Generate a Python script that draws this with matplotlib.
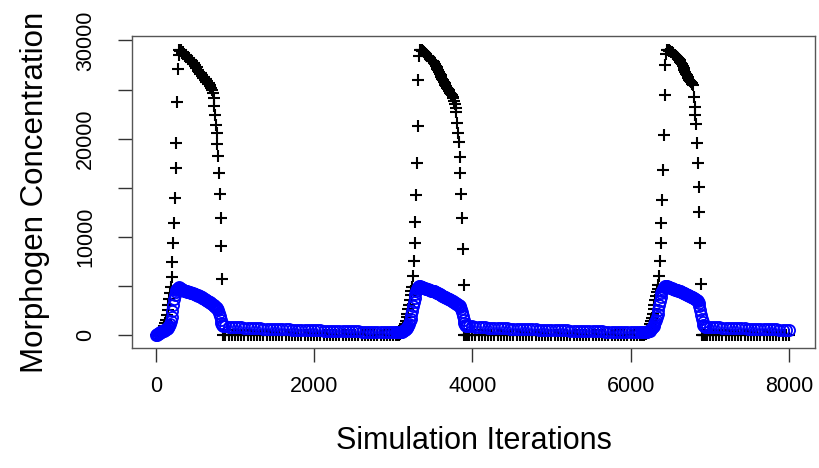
import matplotlib
matplotlib.use("Agg")
import matplotlib.pyplot as plt
import numpy as np

plt.rcParams["font.family"] = ["Liberation Sans", "DejaVu Sans"]

# pulses are sampled every 10 iterations, the baseline every 40
c1_start = 0
c1_black = [0, 0, 10, 30, 60, 100, 150, 220, 320, 450, 650, 900, 1200, 1600, 2050,
            2550, 3100, 3700, 4300, 4900, 5900, 7500, 9400, 11400, 14000, 17000,
            19600, 23700, 27100, 28500, 29050,
            28900, 29000, 28750, 28800, 28600, 28650, 28450, 28500, 28300, 28350,
            28150, 28200, 28000, 28050, 27800, 27900, 27650, 27700, 27400, 27500,
            27200, 27250, 27000, 26900, 26800, 26600, 26650, 26400, 26450, 26200,
            26250, 26000, 26050, 25800, 25850, 25600, 25650, 25400, 25450, 25200,
            25000, 24700,
            24100, 23300, 22400, 21400, 20600, 19500, 18200, 16500, 14400, 11900,
            9100, 5700, 0]
c1_blue = [0, 40, 90, 140, 190, 240, 290, 340, 390, 430, 480, 530, 580, 630, 680,
           740, 820, 950, 1150, 1450, 1900, 2500, 3100, 3700, 4100, 4400, 4600,
           4750, 4850, 4900, 4850, 4800, 4750, 4700, 4650, 4600, 4550, 4500, 4480,
           4450, 4420, 4400, 4370, 4350, 4320, 4300, 4270, 4250, 4220, 4200, 4170,
           4140, 4100, 4070, 4030, 4000, 3950, 3900, 3860, 3820, 3780, 3730, 3680,
           3630, 3580, 3530, 3470, 3410, 3350, 3290, 3230, 3170, 3100, 3030, 2960,
           2900, 2850, 2800, 2700, 2550, 2300, 1950, 1550, 1200, 1000, 920]

flat1_start = 880
flat1_blue = [900, 870, 850, 830, 810, 790, 770, 755, 740, 725,
              710, 695, 680, 665, 650, 640, 630, 620, 610, 600,
              590, 580, 570, 560, 550, 540, 530, 520, 510, 500,
              490, 480, 470, 460, 450, 445, 440, 430, 420, 410,
              400, 390, 380, 370, 360, 355, 350, 345, 340, 330,
              320, 315, 310, 305, 300]

c2_start = 3050
c2_black = [0, 20, 50, 100, 170, 260, 380, 520, 700, 920, 1180, 1480, 1820, 2200,
            2620, 3080, 3560, 4050, 4500, 4920,
            6010, 7570, 9410, 11490, 14300, 17500, 21340, 26000, 28370, 29050,
            29000, 29050, 28950, 28900, 28800, 28700, 28650, 28550, 28450, 28400,
            28300, 28200, 28150, 28050, 27950, 27900, 27850, 27700, 27550, 27400,
            27250, 27100, 26950, 26800, 26600, 26450, 26300, 26100, 25950, 25800,
            25650, 25500, 25350, 25200, 25100, 24950, 24850, 24700, 24550, 24400,
            24250, 24100, 23800, 23500, 23100, 22750,
            21580, 20560, 19640, 18180, 16480, 14370, 11890, 8730, 5100, 0,
            0, 0, 0]
c2_blue = [300, 300, 310, 320, 330, 350, 370, 400, 440, 490, 550, 620, 700, 800,
           950, 1150, 1400, 1700, 2100, 2500, 2950, 3400, 3800, 4150, 4450, 4700,
           4850, 4950, 5000, 5000, 4950, 4920, 4880, 4850, 4810, 4780, 4750, 4720,
           4690, 4660, 4630, 4600, 4580, 4550, 4520, 4500, 4480, 4450, 4410, 4370,
           4330, 4290, 4250, 4200, 4160, 4110, 4070, 4020, 3980, 3930, 3880, 3840,
           3800, 3750, 3710, 3670, 3640, 3610, 3570, 3520, 3470, 3420, 3370, 3310,
           3250, 3190, 3140, 3100, 3050, 3000, 2900, 2700, 2400, 2000, 1600, 1250,
           1050, 950, 920]

flat2_start = 3960
flat2_blue = [920, 890, 860, 840, 815, 795, 775, 760, 745, 730,
              715, 700, 685, 670, 655, 645, 635, 625, 615, 605,
              595, 585, 575, 565, 555, 545, 535, 525, 515, 505,
              495, 485, 475, 465, 455, 445, 440, 430, 420, 410,
              400, 390, 380, 370, 360, 350, 345, 340, 335, 330,
              320, 315, 310, 305, 300]

c3_start = 6150
c3_black = [0, 20, 50, 90, 150, 230, 340, 480, 660, 880, 1150, 1450, 1800, 2200,
            2650, 3100, 3550, 4000, 4400, 4750, 5100, 6010, 7570, 9410, 11390,
            13760, 16820, 20390, 24460, 27520, 28600, 29000,
            29050, 29000, 28950, 28900, 28850, 28800, 28700, 28600, 28550, 28500,
            28400, 28350, 28300, 28200, 28100, 28000, 27850, 27700, 27550, 27400,
            27200, 27000, 26800, 26600, 26450, 26300, 26150, 26000, 25900, 25800,
            25700, 25600, 25500,
            24290, 23270, 22430, 21470, 19540, 17500, 15120, 12570, 9410, 5200, 0,
            0, 0, 0, 0]
c3_blue = [300, 300, 310, 320, 330, 340, 360, 390, 430, 480, 540, 610, 700, 800,
           930, 1100, 1300, 1550, 1850, 2200, 2600, 3050, 3500, 3900, 4250, 4550,
           4750, 4880, 4950, 4990, 5000, 4980, 4950, 4920, 4880, 4850, 4810, 4770,
           4740, 4700, 4670, 4640, 4610, 4580, 4560, 4530, 4510, 4490, 4460, 4420,
           4380, 4340, 4300, 4260, 4210, 4170, 4130, 4090, 4050, 4010, 3980, 3940,
           3900, 3860, 3820, 3780, 3730, 3680, 3630, 3560, 3450, 3250, 2950, 2550,
           2100, 1650, 1300, 1050, 920, 880]

flat3_start = 6960
flat3_blue = [860, 840, 820, 805, 790, 775, 760, 745, 730, 720,
              710, 700, 690, 680, 670, 660, 650, 640, 630, 620,
              610, 600, 590, 580, 570, 560, 550]

x_ticks = [0, 2000, 4000, 6000, 8000]
y_ticks = [0, 5000, 10000, 15000, 20000, 25000, 30000]
y_labels = ["0", "", "10000", "", "20000", "", "30000"]


def _segment(start, step, values):
    return start + step * np.arange(len(values)), np.asarray(values, dtype=float)


def _join(parts):
    xs, ys = zip(*[_segment(*p) for p in parts])
    return np.concatenate(xs), np.concatenate(ys)


black_x, black_y = _join([
    (c1_start, 10, c1_black), (flat1_start, 40, [0] * len(flat1_blue)),
    (c2_start, 10, c2_black), (flat2_start, 40, [0] * len(flat2_blue)),
    (c3_start, 10, c3_black), (flat3_start, 40, [0] * len(flat3_blue)),
])
blue_x, blue_y = _join([
    (c1_start, 10, c1_blue), (flat1_start, 40, flat1_blue),
    (c2_start, 10, c2_blue), (flat2_start, 40, flat2_blue),
    (c3_start, 10, c3_blue), (flat3_start, 40, flat3_blue),
])

fig = plt.figure(figsize=(8.19, 4.68), dpi=100)
ax = fig.add_axes([132 / 819, 120 / 468, 683 / 819, 312 / 468])

ax.plot(black_x, black_y, "+", color="black", ms=8.5, mew=1.5, ls="none")
ax.plot(blue_x, blue_y, "o", mfc="none", mec="#0000ff", ms=8, mew=1.3, ls="none")

ax.set_xlim(-300, 8330)
ax.set_ylim(-1300, 30450)
ax.set_xticks(x_ticks)
ax.set_yticks(y_ticks)
ax.set_yticklabels(y_labels, rotation=90, va="center")

for s in ax.spines.values():
    s.set_color("#555555")
    s.set_linewidth(1.0)
ax.tick_params(axis="both", direction="out", length=10, width=1.0,
               color="#333333", labelsize=15.5)
ax.tick_params(axis="x", pad=10)
ax.tick_params(axis="y", pad=16)

ax.set_xlabel("Simulation Iterations", fontsize=22, va="center")
ax.xaxis.set_label_coords(0.5, -0.298)
ax.set_ylabel("Morphogen Concentration", fontsize=22.5, va="center")
ax.yaxis.set_label_coords(-0.142, 0.5)

fig.savefig("out.png", dpi=100)
